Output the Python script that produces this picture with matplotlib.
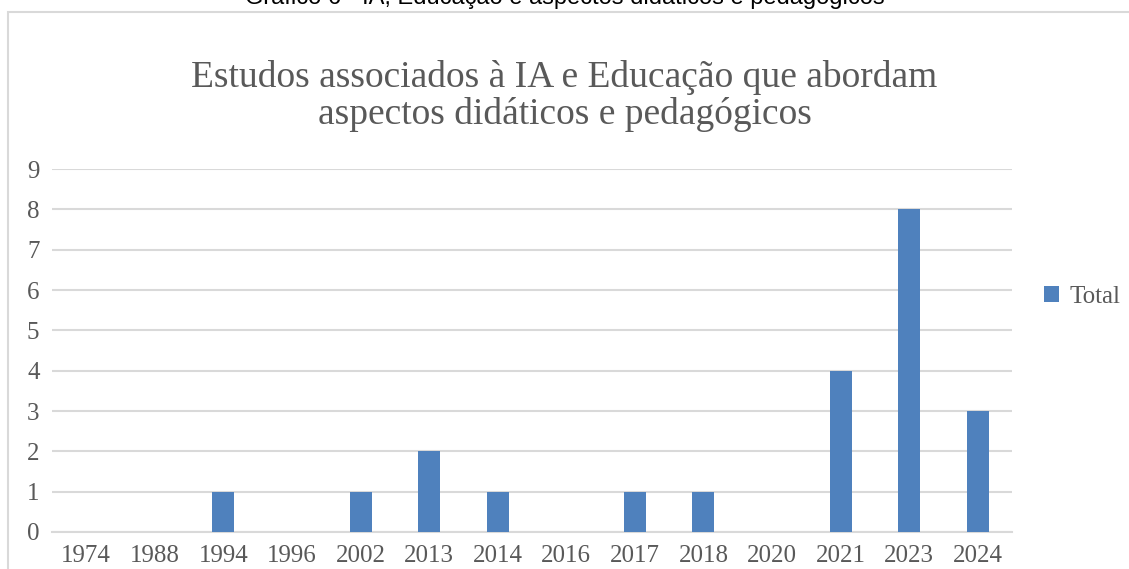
import matplotlib.pyplot as plt
from matplotlib.patches import Rectangle

years = ['1974', '1988', '1994', '1996', '2002', '2013', '2014',
         '2016', '2017', '2018', '2020', '2021', '2023', '2024']
totals = [0, 0, 1, 0, 1, 2, 1, 0, 1, 1, 0, 4, 8, 3]

caption = 'Gráfico 6 - IA, Educação e aspectos didáticos e pedagógicos'
title = 'Estudos associados à IA e Educação que abordam\naspectos didáticos e pedagógicos'


def main() -> None:
    fig = plt.figure(figsize=(11.29, 5.69), dpi=100)
    fig.patch.set_facecolor('white')

    # chart frame, cut by the page on the right and bottom
    frame = Rectangle((8 / 1129, -0.1), 1.2, 1.1 - 12 / 569,
                      transform=fig.transFigure, fill=False,
                      edgecolor='#d9d9d9', linewidth=1.5)
    fig.patches.append(frame)

    # caption from the document, half cut off
    fig.text(0.5, 1.0 + 2 / 569, caption, ha='center', va='center',
             fontsize=17, family='Liberation Sans', color='#000000')

    fig.text(0.5, 1 - 96 / 569, title, ha='center', va='center',
             fontsize=27, family='Liberation Serif', color='#595959',
             linespacing=1.05)

    ax = fig.add_axes([52 / 1129, 1 - 532 / 569, 960 / 1129, 363 / 569])
    x = range(len(years))
    ax.bar(x, totals, width=0.32, color='#4f81bd', label='Total', zorder=3)

    ax.set_xlim(-0.5, len(years) - 0.5)
    ax.set_ylim(0, 9)
    ax.set_yticks(range(0, 10))
    ax.set_xticks(list(x))
    ax.set_xticklabels(years)
    ax.grid(axis='y', color='#d9d9d9', linewidth=1.5, zorder=0)
    for side in ['top', 'right', 'left']:
        ax.spines[side].set_visible(False)
    ax.spines['bottom'].set_color('#d9d9d9')
    ax.spines['bottom'].set_linewidth(1.5)
    ax.tick_params(length=0, labelsize=18, labelcolor='#595959')
    ax.tick_params(axis='x', pad=9)
    ax.tick_params(axis='y', pad=9)
    for lab in ax.get_xticklabels() + ax.get_yticklabels():
        lab.set_family('Liberation Serif')

    ax.legend(loc='center left', bbox_to_anchor=(1.01, 0.647),
              frameon=False, prop={'family': 'Liberation Serif', 'size': 18},
              handlelength=0.6, handleheight=0.6, handletextpad=0.4,
              labelcolor='#595959')

    fig.savefig('out.png', dpi=100, facecolor='white')


if __name__ == '__main__':
    main()
